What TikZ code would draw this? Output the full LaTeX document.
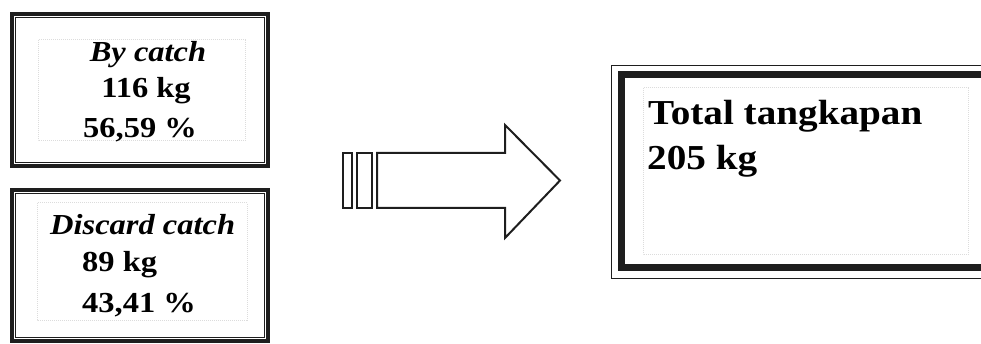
\documentclass[tikz,border=0pt]{standalone}
\usepackage{fontspec}
\setmainfont{Liberation Serif}[FakeStretch=1.12]
\usetikzlibrary{positioning}
\definecolor{inkdark}{HTML}{1E1E1E}
\definecolor{scanfaint}{HTML}{DCDCDC}

\begin{document}
\begin{tikzpicture}[x=1pt, y=-1pt,
  frame/.style={draw=inkdark, line width=3.6pt, inner sep=0pt, minimum width=256pt},
  bigframe/.style={draw=inkdark, line width=7pt, inner sep=0pt},
  inner/.style={draw=inkdark, line width=1.4pt},
  faint/.style={draw=scanfaint, line width=1pt, densely dotted},
  txt/.style={font=\fontsize{29}{38}\selectfont\bfseries, inner sep=0pt, anchor=base},
  txtbig/.style={font=\fontsize{35}{45}\selectfont\bfseries, inner sep=0pt, anchor=base west},
  hollow/.style={draw=inkdark, line width=2pt, line join=miter}
]
\useasboundingbox (0,0) rectangle (981,344);

% left boxes
\node[frame, minimum height=152pt] (bycatch) at (140,90) {};
\node[frame, minimum height=151pt] (discard) at (140,265.5) {};
\draw[inner] ([shift={(5.5pt,-5.5pt)}]bycatch.north west) rectangle ([shift={(-5.5pt,5.5pt)}]bycatch.south east);
\draw[inner] ([shift={(5.5pt,-5.5pt)}]discard.north west) rectangle ([shift={(-5.5pt,5.5pt)}]discard.south east);
\draw[faint] (38,40) rectangle (245,141);
\draw[faint] (37,203) rectangle (247,320);

\node[txt] (bytitle) at (148,62) {\itshape By catch};
\node[txt] (bykg) at (146,98) {116 kg};
\node[txt] (bypct) at (140,138) {56,59 \%};

\node[txt, anchor=base west] (distitle) at (50,235) {\itshape Discard catch};
\node[txt, anchor=base west] (diskg) at (82,272) {89 kg};
\node[txt, anchor=base west] (dispct) at (82,312) {43,41 \%};

% big arrow
\draw[hollow] (343,153) rectangle (352,208);
\draw[hollow] (357,153) rectangle (372,208);
\draw[hollow] (377,153) -- (505,153) -- (505,125) -- (560,180.5)
  -- (505,238) -- (505,208) -- (377,208) -- cycle;

% total box
\node[bigframe, minimum width=364pt, minimum height=193pt] (total) at (803,171.5) {};
\draw[inner] ([shift={(-6pt,6pt)}]total.north west) -- ([shift={(8pt,6pt)}]total.north east);
\draw[inner] ([shift={(-6pt,6pt)}]total.north west) -- ([shift={(-6pt,-7pt)}]total.south west)
  -- ([shift={(8pt,-7pt)}]total.south east);
\draw[faint] (643,88) rectangle (968,255);

\node[txtbig] (tottitle) at (648,125) {Total tangkapan};
\node[txtbig] (totkg) at (647,170) {205 kg};
\end{tikzpicture}
\end{document}
